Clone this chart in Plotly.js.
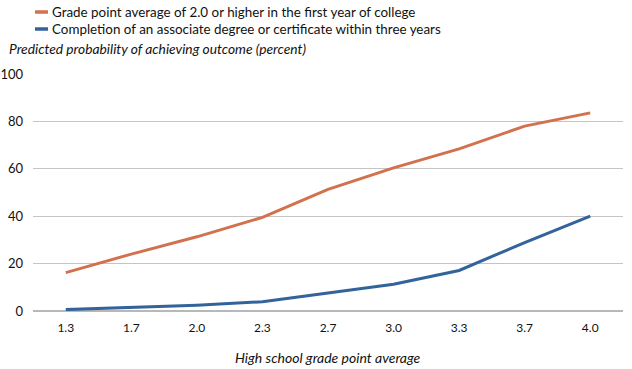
<!DOCTYPE html>
<html>
<head>
<meta charset="utf-8">
<script src="https://cdn.plot.ly/plotly-3.0.1.min.js"></script>
<style>html,body{margin:0;padding:0;background:#fff}#chart{width:632px;height:369px}</style>
</head>
<body>
<div id="chart"></div>
<script>
const categories = ["1.3","1.7","2.0","2.3","2.7","3.0","3.3","3.7","4.0"];
const gpaValues = [16.2, 24, 31.3, 39.5, 51.3, 60.4, 68.4, 78, 83.6];
const completionValues = [0.6, 1.4, 2.4, 3.9, 7.5, 11.3, 17.1, 28.9, 40];
const seriesNames = [
  "Grade point average of 2.0 or higher in the first year of college",
  "Completion of an associate degree or certificate within three years"
];
const yTicks = [0, 20, 40, 60, 80, 100];
const yTitle = "Predicted probability of achieving outcome (percent)";
const xTitle = "High school grade point average";

const colors = ["#D2714D", "#32639A"];
const FONT = "Lato, 'Open Sans', sans-serif";

const traces = [
  {x: categories, y: gpaValues, name: seriesNames[0], type: "scatter", mode: "lines",
   line: {color: colors[0], width: 3}, showlegend: false},
  {x: categories, y: completionValues, name: seriesNames[1], type: "scatter", mode: "lines",
   line: {color: colors[1], width: 3}, showlegend: false}
];

const L = 33, R = 9, T = 74, B = 58, W = 632, H = 369;
const pw = W - L - R, ph = H - T - B;
const px = v => (v - L) / pw;
const py = v => (H - B - v) / ph;

const legendRows = [12, 29];
const shapes = [];
const annotations = [];
seriesNames.forEach((n, i) => {
  shapes.push({type: "line", xref: "paper", yref: "paper",
    x0: px(35), x1: px(48), y0: py(legendRows[i]), y1: py(legendRows[i]),
    line: {color: colors[i], width: 3.5}});
  annotations.push({xref: "paper", yref: "paper", x: px(50), y: py(legendRows[i]),
    xanchor: "left", yanchor: "middle", showarrow: false, text: n,
    font: {family: FONT, size: 13.4, color: "#111"}});
});
annotations.push({xref: "paper", yref: "paper", x: px(7), y: py(48),
  xanchor: "left", yanchor: "middle", showarrow: false, text: yTitle,
  font: {family: FONT, size: 13.8, color: "#111", style: "italic"}});
annotations.push({xref: "paper", yref: "paper", x: px(328), y: py(357),
  xanchor: "center", yanchor: "middle", showarrow: false, text: xTitle,
  font: {family: FONT, size: 14, color: "#111", style: "italic"}});

const layout = {
  width: W, height: H,
  margin: {l: L, r: R, t: T, b: B, pad: 0},
  paper_bgcolor: "#fff", plot_bgcolor: "#fff",
  showlegend: false,
  font: {family: FONT, size: 12, color: "#111"},
  xaxis: {type: "category", range: [-0.5, 8.5], showgrid: false, zeroline: false,
    showline: false, ticks: "", tickfont: {family: FONT, size: 12, color: "#111"},
    ticklabelstandoff: 8, fixedrange: true},
  yaxis: {range: [0, 100], tickvals: yTicks, showgrid: true, gridcolor: "#C4C4C4", gridwidth: 1.3,
    zeroline: true, zerolinecolor: "#B8B8B8", zerolinewidth: 2, showline: false, ticks: "",
    tickfont: {family: FONT, size: 13, color: "#111"}, ticklabelstandoff: 9, fixedrange: true},
  shapes: shapes,
  annotations: annotations
};

Plotly.newPlot("chart", traces, layout, {displayModeBar: false, staticPlot: true});
</script>
</body>
</html>
